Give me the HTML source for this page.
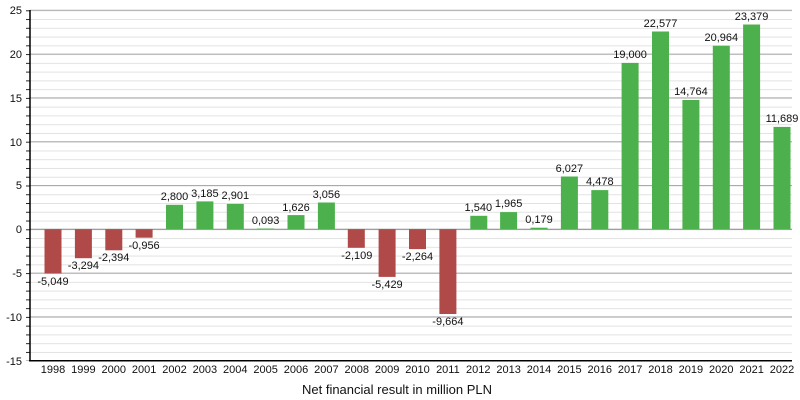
<!DOCTYPE html>
<html><head><style>body{margin:0;background:#fff}svg{display:block}text{font-family:"Liberation Sans",sans-serif;fill:#111}</style></head><body>
<svg width="800" height="400" viewBox="0 0 800 400">
<defs><pattern id="m" x="0" y="10.3" width="800" height="8.76" patternUnits="userSpaceOnUse"><line x1="0" y1="0.5" x2="800" y2="0.5" stroke="#e2e2e2" stroke-width="1"/></pattern>
<pattern id="t" x="0" y="10.3" width="800" height="8.76" patternUnits="userSpaceOnUse"><line x1="0" y1="0.5" x2="800" y2="0.5" stroke="#222" stroke-width="1"/></pattern></defs>
<rect x="30" y="10" width="762" height="351" fill="url(#m)"/>
<g stroke="#aaa" stroke-width="1">
<line x1="30" x2="792" y1="10.3" y2="10.3"/><line x1="30" x2="792" y1="54.1" y2="54.1"/><line x1="30" x2="792" y1="97.9" y2="97.9"/><line x1="30" x2="792" y1="141.7" y2="141.7"/><line x1="30" x2="792" y1="185.5" y2="185.5"/><line x1="30" x2="792" y1="229.3" y2="229.3" stroke="#888"/><line x1="30" x2="792" y1="273.1" y2="273.1"/><line x1="30" x2="792" y1="316.9" y2="316.9"/>
</g>
<rect x="26" y="10" width="4" height="351" fill="url(#t)"/>
<g font-size="11" text-anchor="end">
<text x="22" y="14">25</text><text x="22" y="58">20</text><text x="22" y="102">15</text><text x="22" y="146">10</text><text x="22" y="189">5</text><text x="22" y="233">0</text><text x="22" y="277">-5</text><text x="22" y="321">-10</text><text x="22" y="365">-15</text>
</g>
<g fill="#b04a48">
<rect x="44.5" y="229.3" width="17" height="44.2"/><rect x="74.9" y="229.3" width="17" height="28.9"/><rect x="105.3" y="229.3" width="17" height="21"/><rect x="135.6" y="229.3" width="17" height="8.4"/>
<rect x="347.8" y="229.3" width="17" height="18.5"/><rect x="378.6" y="229.3" width="17" height="47.6"/><rect x="409" y="229.3" width="17" height="19.8"/><rect x="439.4" y="229.3" width="17" height="84.7"/>
</g>
<g fill="#4cb04c">
<rect x="166" y="204.8" width="17" height="24.5"/><rect x="196.4" y="201.4" width="17" height="27.9"/><rect x="226.8" y="203.9" width="17" height="25.4"/><rect x="257.1" y="228.5" width="17" height="0.8"/><rect x="287.5" y="215.1" width="17" height="14.2"/><rect x="317.9" y="202.5" width="17" height="26.8"/>
<rect x="470.3" y="215.8" width="17" height="13.5"/><rect x="500.1" y="212.1" width="17" height="17.2"/><rect x="530.5" y="227.7" width="17" height="1.6"/><rect x="560.9" y="176.5" width="17" height="52.8"/><rect x="591.3" y="190.1" width="17" height="39.2"/><rect x="621.6" y="62.9" width="17" height="166.4"/><rect x="652" y="31.5" width="17" height="197.8"/><rect x="682.4" y="100" width="17" height="129.3"/><rect x="712.8" y="45.7" width="17" height="183.6"/><rect x="743.1" y="24.5" width="17" height="204.8"/><rect x="773.5" y="126.9" width="17" height="102.4"/>
</g>
<line x1="30" y1="10" x2="30" y2="361" stroke="#000" stroke-width="1.5"/>
<line x1="29" y1="360.7" x2="792" y2="360.7" stroke="#000" stroke-width="1.5"/>
<g font-size="11" text-anchor="middle">
<text x="53" y="285">-5,049</text><text x="83.4" y="269">-3,294</text><text x="113.8" y="261">-2,394</text><text x="144.1" y="249">-0,956</text>
<text x="174.5" y="200">2,800</text><text x="204.9" y="197">3,185</text><text x="235.3" y="199">2,901</text><text x="265.6" y="224">0,093</text><text x="296" y="211">1,626</text><text x="326.4" y="198">3,056</text>
<text x="356.8" y="259">-2,109</text><text x="387.1" y="288">-5,429</text><text x="417.5" y="260">-2,264</text><text x="447.9" y="325">-9,664</text>
<text x="478.3" y="211">1,540</text><text x="508.6" y="207">1,965</text><text x="539" y="223">0,179</text><text x="569.4" y="172">6,027</text><text x="599.8" y="185">4,478</text><text x="630.1" y="58">19,000</text><text x="660.5" y="27">22,577</text><text x="690.9" y="95">14,764</text><text x="721.3" y="41">20,964</text><text x="751.6" y="20">23,379</text><text x="782" y="122">11,689</text>
</g>
<g font-size="11" text-anchor="middle">
<text x="53" y="373">1998</text><text x="83.4" y="373">1999</text><text x="113.8" y="373">2000</text><text x="144.1" y="373">2001</text><text x="174.5" y="373">2002</text><text x="204.9" y="373">2003</text><text x="235.3" y="373">2004</text><text x="265.6" y="373">2005</text><text x="296" y="373">2006</text><text x="326.4" y="373">2007</text><text x="356.8" y="373">2008</text><text x="387.1" y="373">2009</text><text x="417.5" y="373">2010</text><text x="447.9" y="373">2011</text><text x="478.3" y="373">2012</text><text x="508.6" y="373">2013</text><text x="539" y="373">2014</text><text x="569.4" y="373">2015</text><text x="599.8" y="373">2016</text><text x="630.1" y="373">2017</text><text x="660.5" y="373">2018</text><text x="690.9" y="373">2019</text><text x="721.3" y="373">2020</text><text x="751.6" y="373">2021</text><text x="782" y="373">2022</text>
</g>
<text x="397" y="394" font-size="13" text-anchor="middle">Net financial result in million PLN</text>
</svg>
</body></html>
